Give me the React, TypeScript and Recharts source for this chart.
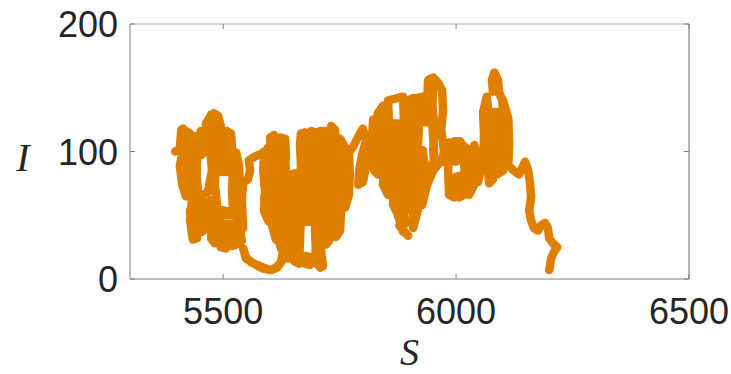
import React from "react";
import { LineChart, Line, XAxis, YAxis } from "recharts";

// Trajectory of (S, I) in drawing order, split into pieces.
// Left cluster, first sweep
const PART1_S = [5397, 5407, 5410, 5414, 5416, 5407, 5412, 5420, 5425, 5420, 5422, 5420, 5429, 5431, 5427, 5433, 5429, 5435, 5444, 5442, 5446, 5440, 5444, 5442];
const PART1_I = [100, 102, 117, 118, 105, 89, 74, 65, 78, 93, 109, 116, 114, 101, 82, 62, 46, 31, 32, 50, 70, 89, 105, 112];
// Left cluster, cross strokes
const PART2_S = [5414, 5412, 5444, 5444, 5410, 5414, 5442, 5444, 5418, 5422, 5444, 5444, 5429, 5431, 5444, 5444, 5433, 5442, 5444];
const PART2_I = [109, 101, 100, 92, 92, 82, 82, 73, 73, 65, 64, 54, 54, 45, 45, 35, 35, 62, 101];
// Left cluster, second sweep
const PART3_S = [
  5452, 5457, 5452, 5461, 5463, 5463, 5470, 5474, 5476, 5472, 5476, 5467, 5457, 5450, 5455, 5463,
  5465, 5474, 5476, 5474, 5482, 5485, 5487, 5482, 5485, 5480, 5480, 5489, 5495, 5498, 5495, 5506, 5506, 5508, 5517, 5519,
  5521, 5519, 5521, 5510, 5498, 5491, 5495, 5506, 5508, 5515, 5519, 5528, 5530, 5528, 5530, 5528, 5534, 5536, 5538, 5536, 5540,
];
const PART3_I = [
  116, 105, 97, 100, 113, 122, 126, 129, 113, 101, 85, 68, 66, 54, 37, 40,
  58, 62, 46, 32, 28, 42, 58, 74, 93, 113, 130, 128, 120, 105, 84, 84, 101, 116, 114, 101,
  85, 70, 54, 53, 54, 42, 25, 24, 38, 42, 26, 27, 42, 62, 82, 99, 89, 74, 54, 38, 30,
];
// Left cluster, lower cross strokes
const PART4_S = [5480, 5480, 5538, 5536, 5478, 5476, 5538];
const PART4_I = [30, 36, 36, 43, 43, 50, 50];
// Bridge and middle cluster (left lobe)
const PART5_S = [
  5543, 5540, 5543, 5553, 5558, 5555, 5568, 5581, 5588, 5586, 5590, 5588, 5598, 5601, 5596, 5603, 5601, 5609, 5613,
  5609, 5613, 5611, 5616, 5624, 5622, 5626, 5620, 5624, 5622, 5633, 5635, 5631, 5635, 5633, 5635,
];
const PART5_I = [
  40, 62, 76, 78, 85, 93, 96, 98, 100, 85, 70, 53, 45, 62, 78, 93, 111, 113, 101,
  85, 66, 50, 35, 24, 42, 62, 82, 101, 111, 110, 97, 82, 62, 42, 27,
];
// Middle cluster, cross strokes
const PART6_S = [5613, 5605, 5635, 5637, 5590, 5588, 5637, 5635, 5588, 5588, 5635, 5633, 5592, 5596, 5633, 5635];
const PART6_I = [31, 42, 40, 53, 54, 64, 64, 74, 74, 84, 84, 93, 93, 103, 103, 27];
// Low excursion, middle cluster and right-middle cluster
const PART7_S = [
  5628, 5624, 5613, 5601,
  5586, 5573, 5560, 5549, 5543, 5549, 5562, 5575, 5588, 5603, 5616, 5626, 5631, 5639, 5644, 5646, 5641, 5646, 5654, 5656,
  5652, 5656, 5652, 5663, 5665, 5667, 5663, 5667, 5665, 5667, 5676, 5678, 5674, 5678, 5676, 5686, 5686, 5689, 5684, 5689,
  5697, 5699, 5695, 5699, 5697, 5699, 5695, 5686, 5676, 5678, 5689, 5701, 5708, 5714, 5710, 5708, 5710, 5706, 5710, 5708,
  5719, 5721, 5717, 5721, 5719, 5721, 5729, 5732, 5727, 5732, 5727, 5732, 5740, 5742, 5738, 5742, 5740, 5742, 5751, 5753,
  5749, 5753, 5751, 5762, 5764, 5759, 5762, 5770, 5772, 5770, 5781, 5792, 5800, 5807, 5798, 5792, 5790, 5800, 5807, 5815,
  5820, 5822, 5824, 5820, 5824, 5832, 5835, 5830, 5832, 5843, 5845, 5841, 5845, 5843, 5854, 5856, 5852, 5856, 5854, 5865,
  5875, 5886, 5888, 5884, 5888, 5886, 5888, 5886, 5875, 5878, 5873, 5875, 5875, 5865, 5867, 5865, 5865, 5875, 5886, 5897,
];
const PART7_I = [
  21, 13, 9, 7,
  9, 11, 13, 17, 24, 16, 13, 10, 8, 7, 9, 14, 19, 16, 31, 50, 66, 82, 83, 66,
  46, 27, 14, 12, 31, 50, 70, 89, 105, 114, 115, 101, 82, 62, 45, 45, 62, 82, 101, 116,
  115, 97, 78, 58, 38, 23, 13, 11, 12, 18, 17, 13, 9, 10, 23, 38, 58, 78, 97, 116,
  116, 101, 82, 62, 42, 27, 31, 50, 70, 89, 109, 120, 117, 101, 82, 62, 46, 33, 38, 54,
  74, 93, 110, 103, 89, 74, 56, 66, 82, 99, 105, 113, 118, 109, 97, 85, 74, 76, 89, 101,
  113, 125, 109, 97, 85, 82, 97, 113, 130, 136, 121, 101, 85, 74, 66, 82, 101, 121, 140, 141,
  142, 143, 125, 109, 89, 70, 50, 37, 50, 70, 89, 109, 122, 122, 101, 82, 58, 51, 38, 34,
];
// Right-middle cluster, cross strokes
const PART8_S = [5878, 5905, 5910, 5871, 5869, 5914, 5916, 5858, 5854, 5918, 5920, 5854, 5854, 5918];
const PART8_I = [42, 46, 54, 54, 64, 64, 73, 73, 82, 82, 92, 92, 101, 101];
// Right-middle cluster, side lobe and tall peak
const PART9_S = [
  5899, 5895, 5899, 5895, 5897, 5908, 5910, 5905, 5910, 5908, 5908, 5918, 5920, 5916, 5920, 5918, 5929, 5931, 5929, 5940,
  5938, 5940, 5951, 5961, 5970, 5972, 5968, 5974, 5972, 5961, 5953, 5951, 5953, 5948, 5951, 5948, 5953, 5951, 5940, 5931,
  5929, 5931, 5927, 5938, 5951, 5966, 5985, 5983, 5985, 5996, 5998, 6009, 6006, 6017, 6019, 6015, 6009, 6006, 5998, 5996,
  6006, 6017, 6028, 6030, 6028, 6039, 6041, 6039, 6047, 6047, 6058, 6060, 6058, 6066, 6071, 6066, 6071, 6079, 6082, 6079,
  6077, 6088, 6090, 6088, 6101, 6103, 6101, 6099, 6092, 6090, 6082, 6077, 6079, 6090, 6101, 6112, 6114, 6112,
];
const PART9_I = [
  54, 74, 93, 113, 140, 142, 121, 101, 82, 62, 40, 54, 74, 93, 117, 142, 143, 129, 123, 123,
  140, 156, 158, 154, 148, 132, 117, 101, 92, 93, 87, 101, 121, 140, 151, 125, 101, 85, 83, 93,
  101, 82, 58, 74, 85, 92, 107, 85, 66, 64, 80, 81, 64, 66, 82, 101, 108, 93, 92, 108,
  108, 104, 101, 82, 66, 74, 89, 105, 93, 76, 93, 113, 131, 143, 125, 101, 75, 78, 101, 117,
  131, 131, 109, 82, 85, 109, 129, 140, 147, 156, 162, 156, 147, 147, 140, 126, 105, 89,
];
// Tall peak, cross strokes
const PART10_S = [6060, 6060, 6112, 6112, 6060, 6062, 6112, 6112, 6064, 6066, 6107, 6112, 6112];
const PART10_I = [85, 93, 97, 105, 103, 112, 113, 121, 122, 129, 129, 101, 89];
// Final descending tail
const PART11_S = [6124, 6135, 6142, 6148, 6155, 6159, 6161, 6157, 6161, 6167, 6176, 6182, 6191, 6197, 6200, 6208, 6217, 6210, 6204, 6202, 6200];
const PART11_I = [85, 82, 87, 92, 85, 74, 64, 54, 46, 40, 38, 42, 44, 40, 32, 28, 25, 21, 16, 11, 7];

const S_VALUES = [
  ...PART1_S, ...PART2_S, ...PART3_S, ...PART4_S, ...PART5_S, ...PART6_S,
  ...PART7_S, ...PART8_S, ...PART9_S, ...PART10_S, ...PART11_S,
];
const I_VALUES = [
  ...PART1_I, ...PART2_I, ...PART3_I, ...PART4_I, ...PART5_I, ...PART6_I,
  ...PART7_I, ...PART8_I, ...PART9_I, ...PART10_I, ...PART11_I,
];

const X_TICKS = [5500, 6000, 6500];
const Y_TICKS = [0, 100, 200];
const X_DOMAIN = [5300, 6500];
const Y_DOMAIN = [0, 200];

const data = S_VALUES.map((s, i) => ({ S: s, I: I_VALUES[i] }));

const ORANGE = "#DF7F00";
const AXIS = "#808080";
const LABEL_FONT = "'Liberation Sans', Arial, Helvetica, sans-serif";
const TITLE_FONT = "'Liberation Serif', 'Times New Roman', serif";

const BottomTick = (props: any) => {
  const { x, y, payload } = props;
  return (
    <g>
      <line x1={x} y1={y} x2={x} y2={y - 5} stroke={AXIS} strokeWidth={1} />
      <text x={x} y={y + 45} textAnchor="middle" fontSize={36} fill="#262626" fontFamily={LABEL_FONT}>
        {payload.value}
      </text>
    </g>
  );
};

const LeftTick = (props: any) => {
  const { x, y, payload } = props;
  return (
    <g>
      <line x1={x} y1={y} x2={x + 5} y2={y} stroke={AXIS} strokeWidth={1} />
      <text x={x - 12} y={y + 13} textAnchor="end" fontSize={36} fill="#262626" fontFamily={LABEL_FONT}>
        {payload.value}
      </text>
    </g>
  );
};

const TopTick = (props: any) => {
  const { x, y } = props;
  return <line x1={x} y1={y} x2={x} y2={y + 5} stroke={AXIS} strokeWidth={1} />;
};

const RightTick = (props: any) => {
  const { x, y } = props;
  return <line x1={x} y1={y} x2={x - 5} y2={y} stroke={AXIS} strokeWidth={1} />;
};

const XTitle = (props: any) => {
  const vb = props.viewBox || { x: 130, y: 279, width: 559 };
  return (
    <text x={vb.x + vb.width / 2} y={vb.y + 86} textAnchor="middle" fontSize={38} fontStyle="italic" fill="#262626" fontFamily={TITLE_FONT}>
      S
    </text>
  );
};

const YTitle = (props: any) => {
  const vb = props.viewBox || { x: 60, y: 24, height: 255 };
  return (
    <text x={23} y={vb.y + vb.height / 2 + 19} textAnchor="middle" fontSize={40} fontStyle="italic" fill="#262626" fontFamily={TITLE_FONT}>
      I
    </text>
  );
};

export default function App() {
  return (
    <div style={{ position: "absolute", left: 0, top: 0, width: 731, height: 374, background: "#fff" }}>
      <LineChart width={731} height={374} data={data} margin={{ top: 23, right: 41, bottom: 35, left: 60 }}>
        <XAxis
          xAxisId="bottom"
          dataKey="S"
          type="number"
          domain={X_DOMAIN}
          ticks={X_TICKS}
          allowDataOverflow
          height={60}
          stroke={AXIS}
          tickLine={false}
          tickSize={0}
          tickMargin={0}
          tick={<BottomTick />}
          label={<XTitle />}
        />
        <XAxis
          xAxisId="top"
          orientation="top"
          dataKey="S"
          type="number"
          domain={X_DOMAIN}
          ticks={X_TICKS}
          allowDataOverflow
          height={1}
          stroke="#b5b5b5"
          tickLine={false}
          tickSize={0}
          tickMargin={0}
          tick={<TopTick />}
        />
        <YAxis
          yAxisId="left"
          type="number"
          domain={Y_DOMAIN}
          ticks={Y_TICKS}
          allowDataOverflow
          width={70}
          stroke={AXIS}
          tickLine={false}
          tickSize={0}
          tickMargin={0}
          tick={<LeftTick />}
          label={<YTitle />}
        />
        <YAxis
          yAxisId="right"
          orientation="right"
          type="number"
          domain={Y_DOMAIN}
          ticks={Y_TICKS}
          allowDataOverflow
          width={1}
          stroke="#707070"
          tickLine={false}
          tickSize={0}
          tickMargin={0}
          tick={<RightTick />}
        />
        <Line
          xAxisId="bottom"
          yAxisId="left"
          dataKey="I"
          type="linear"
          stroke={ORANGE}
          strokeWidth={8.5}
          strokeLinejoin="round"
          strokeLinecap="round"
          dot={false}
          isAnimationActive={false}
        />
        <Line
          xAxisId="top"
          yAxisId="right"
          dataKey="I"
          stroke="none"
          strokeWidth={0}
          dot={false}
          legendType="none"
          isAnimationActive={false}
        />
      </LineChart>
    </div>
  );
}
